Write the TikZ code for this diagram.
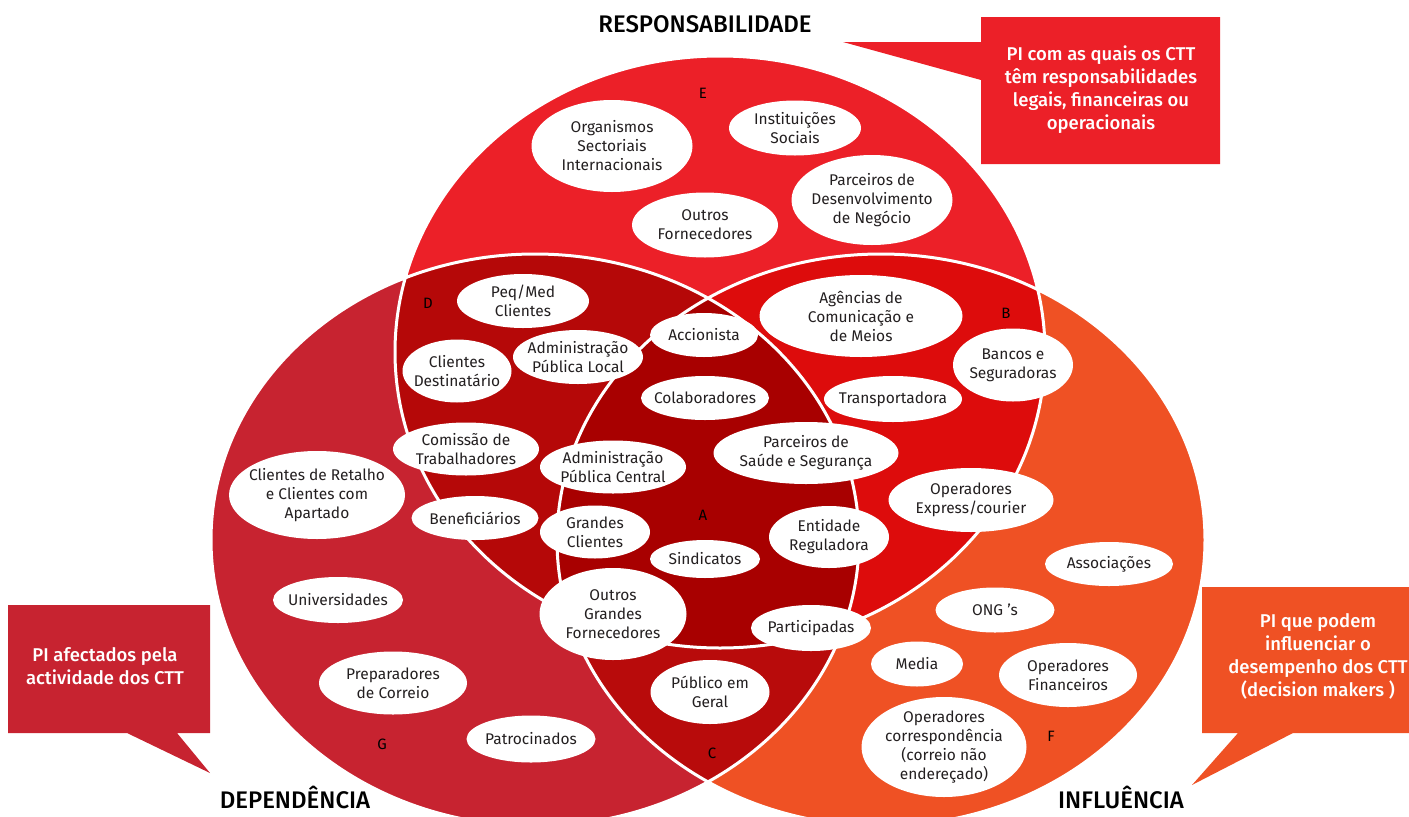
\documentclass[tikz,border=0pt]{standalone}
\usepackage{fontspec}
\setmainfont{Fira Sans}
\newfontfamily\firamed{Fira Sans Medium}
\usetikzlibrary{shapes.geometric}

\definecolor{respred}{RGB}{236,32,40}
\definecolor{depored}{RGB}{199,35,48}
\definecolor{inflorange}{RGB}{239,81,36}
\definecolor{dzone}{RGB}{181,8,8}
\definecolor{bzone}{RGB}{221,12,12}
\definecolor{czone}{RGB}{184,11,11}
\definecolor{azone}{RGB}{168,0,0}
\definecolor{ink}{RGB}{35,31,32}

\begin{document}
\begin{tikzpicture}[x=1pt,y=-1pt,
    toprad/.style={x radius=325pt,y radius=296pt},
    siderad/.style={x radius=324pt,y radius=286pt},
    pi/.style={ellipse,fill=white,text=ink,align=center,inner xsep=-8pt,inner ysep=-4pt,
        font=\fontsize{15.5}{19}\selectfont},
    zone/.style={text=black,font=\fontsize{15}{17}\selectfont},
    heading/.style={text=black,font=\firamed\fontsize{24}{28}\selectfont},
    note/.style={text=white,align=center,font=\firamed\fontsize{18.5}{23}\selectfont}]

    \clip (0,0) rectangle (1409,817);

    \coordinate (E) at (720,352);
    \coordinate (G) at (535,540);
    \coordinate (F) at (881,540);

    % the three circles
    \fill[respred] (E) ellipse [toprad];
    \fill[depored] (G) ellipse [siderad];
    \fill[inflorange] (F) ellipse [siderad];

    % overlaps
    \begin{scope}
        \clip (E) ellipse [toprad];
        \fill[dzone] (G) ellipse [siderad];
        \fill[bzone] (F) ellipse [siderad];
    \end{scope}
    \begin{scope}
        \clip (G) ellipse [siderad];
        \fill[czone] (F) ellipse [siderad];
        \clip (E) ellipse [toprad];
        \fill[azone] (F) ellipse [siderad];
    \end{scope}

    \draw[white,line width=3pt] (E) ellipse [toprad] (G) ellipse [siderad]
        (F) ellipse [siderad];

    % callouts
    \fill[respred] (981,17) rectangle (1220,164) (981,42) -- (843,42) -- (981,80) -- cycle;
    \fill[depored] (8,605) rectangle (210,733) (127,733) -- (210,773) -- (177,733) -- cycle;
    \fill[inflorange] (1202,587) rectangle (1409,733) (1238,733) -- (1192,785) -- (1293,733) -- cycle;

    \node[note] (resnote) at (1101,90) {PI com as quais os CTT\\têm responsabilidades\\legais, financeiras ou\\operacionais};
    \node[note] (depnote) at (105,666) {PI afectados pela\\actividade dos CTT};
    \node[note] (infnote) at (1318,656) {PI que podem\\influenciar o\\desempenho dos CTT\\(decision makers )};

    \node[heading] (res) at (705,24) {RESPONSABILIDADE};
    \node[heading] (dep) at (295,797) {DEPENDÊNCIA};
    \node[heading] (inf) at (1121,797) {INFLUÊNCIA};

    % zone letters
    \node[zone] (zA) at (703,515) {A};
    \node[zone] (zB) at (1006,313) {B};
    \node[zone] (zC) at (712,753) {C};
    \node[zone] (zD) at (428,303) {D};
    \node[zone] (zE) at (703,93) {E};
    \node[zone] (zF) at (1051,736) {F};
    \node[zone] (zG) at (382,744) {G};

    % E
    \node[pi,minimum width=161pt,minimum height=92pt] (orgsect) at (612,146) {Organismos\\Sectoriais\\Internacionais};
    \node[pi,minimum width=132pt,minimum height=55pt] (instsoc) at (795,128) {Instituições\\Sociais};
    \node[pi,minimum width=161pt,minimum height=90pt] (pdn) at (872,200) {Parceiros de\\Desenvolvimento\\de Negócio};
    \node[pi,minimum width=146pt,minimum height=65pt] (outforn) at (705,225) {Outros\\Fornecedores};

    % D
    \node[pi,minimum width=132pt,minimum height=54pt] (pmc) at (523,301) {Peq/Med\\Clientes};
    \node[pi,minimum width=109pt,minimum height=63pt] (clidest) at (457,371) {Clientes\\Destinatário};
    \node[pi,minimum width=130pt,minimum height=54pt] (apl) at (578,357) {Administração\\Pública Local};
    \node[pi,minimum width=146pt,minimum height=53pt] (comtrab) at (466,449) {Comissão de\\Trabalhadores};
    \node[pi,minimum width=127pt,minimum height=44pt] (benef) at (475,518) {Beneficiários};

    % A
    \node[pi,minimum width=108pt,minimum height=44pt] (accion) at (704,335) {Accionista};
    \node[pi,minimum width=128pt,minimum height=44pt] (colab) at (705,398) {Colaboradores};
    \node[pi,minimum width=146pt,minimum height=53pt] (apc) at (613,467) {Administração\\Pública Central};
    \node[pi,minimum width=185pt,minimum height=62pt] (pss) at (806,453) {Parceiros de\\Saúde e Segurança};
    \node[pi,minimum width=110pt,minimum height=53pt] (grcli) at (595,532) {Grandes\\Clientes};
    \node[pi,minimum width=120pt,minimum height=62pt] (entreg) at (829,537) {Entidade\\Reguladora};
    \node[pi,minimum width=110pt,minimum height=38pt] (sind) at (705,559) {Sindicatos};
    \node[pi,minimum width=147pt,minimum height=92pt] (ogf) at (613,614) {Outros\\Grandes\\Fornecedores};
    \node[pi,minimum width=120pt,minimum height=46pt] (partic) at (811,628) {Participadas};

    % B
    \node[pi,minimum width=203pt,minimum height=82pt] (agcom) at (861,316) {Agências de\\Comunicação e\\de Meios};
    \node[pi,minimum width=120pt,minimum height=73pt] (bancos) at (1013,365) {Bancos e\\Seguradoras};
    \node[pi,minimum width=138pt,minimum height=46pt] (transp) at (893,399) {Transportadora};
    \node[pi,minimum width=165pt,minimum height=64pt] (opexp) at (971,500) {Operadores\\Express/courier};

    % C
    \node[pi,minimum width=119pt,minimum height=64pt] (pubger) at (710,692) {Público em\\Geral};

    % G
    \node[pi,minimum width=176pt,minimum height=88pt] (clret) at (317,495) {Clientes de Retalho\\e Clientes com\\Apartado};
    \node[pi,minimum width=130pt,minimum height=46pt] (univ) at (338,600) {Universidades};
    \node[pi,minimum width=148pt,minimum height=63pt] (prepcor) at (393,683) {Preparadores\\de Correio};
    \node[pi,minimum width=129pt,minimum height=47pt] (patroc) at (531,739) {Patrocinados};

    % F
    \node[pi,minimum width=128pt,minimum height=44pt] (assoc) at (1109,564) {Associações};
    \node[pi,minimum width=119pt,minimum height=45pt] (ong) at (995,610) {ONG ’s};
    \node[pi,minimum width=92pt,minimum height=45pt] (media) at (917,664) {Media};
    \node[pi,minimum width=138pt,minimum height=64pt] (opfin) at (1068,675) {Operadores\\Financeiros};
    \node[pi,minimum width=165pt,minimum height=100pt] (opcorr) at (944,747) {Operadores\\correspondência\\(correio não\\endereçado)};
\end{tikzpicture}
\end{document}
